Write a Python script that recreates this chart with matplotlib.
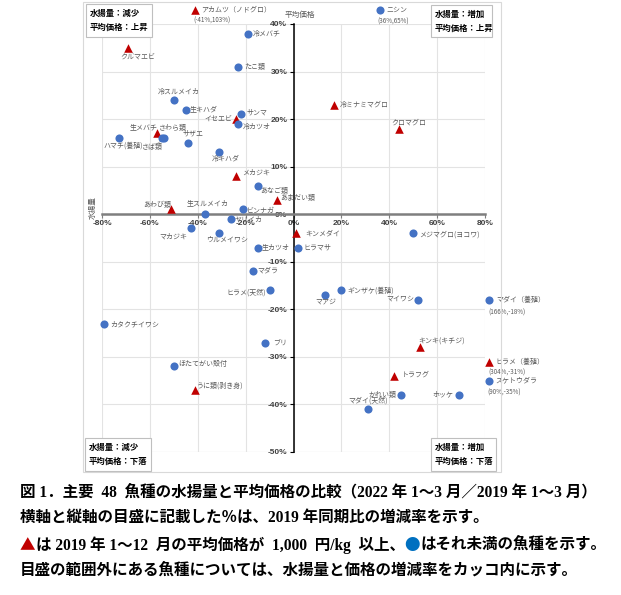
import matplotlib
matplotlib.use("Agg")
import matplotlib.pyplot as plt
from matplotlib.patches import Rectangle

# ---------------- data ----------------
names = ["冷メバチ", "クルマエビ", "たこ類", "冷スルメイカ", "生キハダ", "サンマ", "イセエビ", "冷カツオ",
         "アカムツ（ノドグロ）", "ニシン", "冷ミナミマグロ", "クロマグロ", "ハマチ(養殖)", "生メバチ", "さわら類",
         "さば類", "サザエ", "冷キハダ", "メカジキ", "あなご類", "あまだい類", "ビンナガ", "あわび類",
         "生スルメイカ", "ヤリイカ", "マカジキ", "ウルメイワシ", "キンメダイ", "生カツオ", "ヒラマサ", "マダラ",
         "ヒラメ(天然)", "メジマグロ(ヨコワ)", "マアジ", "ギンザケ(養殖)", "マイワシ", "マダイ（養殖）",
         "カタクチイワシ", "ブリ", "ほたてがい殻付", "うに類(剥き身)", "キンキ(キチジ)", "トラフグ", "かれい類",
         "マダイ(天然)", "ホッケ", "ヒラメ（養殖）", "スケトウダラ"]
volume = [-19, -69, -23, -50, -45, -22, -24, -23,
          -41, 36, 17, 44, -73, -57, -54,
          -55, -44, -31, -24, -15, -7, -21, -51,
          -37, -26, -43, -31, 1, -15, 2, -17,
          -10, 50, 13, 20, 52, 166,
          -79, -12, -50, -41, 53, 42, 45,
          31, 69, 304, 90]
price = [38, 35, 31, 24, 22, 21, 20, 19,
         103, 65, 23, 18, 16, 17, 16,
         16, 15, 13, 8, 6, 3, 1, 1,
         0, -1, -3, -4, -4, -7, -7, -12,
         -16, -4, -17, -16, -18, -18,
         -23, -27, -32, -37, -28, -34, -38,
         -41, -38, -31, -35]
high_price = [0, 1, 0, 0, 0, 0, 1, 0,
              1, 0, 1, 1, 0, 1, 0,
              0, 0, 0, 1, 0, 1, 0, 1,
              0, 0, 0, 0, 1, 0, 0, 0,
              0, 0, 0, 0, 0, 0,
              0, 0, 0, 1, 1, 1, 0,
              0, 0, 1, 0]
xticks = [-80, -60, -40, -20, 0, 20, 40, 60, 80]
yticks = [-50, -40, -30, -20, -10, 0, 10, 20, 30, 40]
quad_texts = ["水揚量：減少\n平均価格：上昇", "水揚量：増加\n平均価格：上昇",
              "水揚量：減少\n平均価格：下落", "水揚量：増加\n平均価格：下落"]
caption = ["図 1．主要  48  魚種の水揚量と平均価格の比較（2022 年 1～3 月／2019 年 1～3 月）",
           "横軸と縦軸の目盛に記載した％は、2019 年同期比の増減率を示す。",
           None,
           "目盛の範囲外にある魚種については、水揚量と価格の増減率をカッコ内に示す。"]
caption3 = [("▲", "#C00000"), ("は 2019 年 1～12  月の平均価格が  1,000  円/kg  以上、", "black"),
            ("●", "#0070C0"), ("はそれ未満の魚種を示す。", "black")]

# label placement (pixel offsets, horizontal alignment)
label_pos = [(5, 0, "left"), (9, -9, "center"), (6, 0, "left"), (5, 8, "center"), (4, 0, "left"),
             (6, 2, "left"), (-4, 0, "right"), (4, -3, "left"),
             (6, 0, "left"), (7, 0, "left"), (6, 0, "left"), (10, 6, "center"), (4, -7, "center"),
             (-13, 6, "center"), (9, 10, "center"),
             (-9, -9, "center"), (5, 9, "center"), (6, -7, "center"), (6, 3, "left"), (3, -5, "left"),
             (4, 2, "left"), (4, -1, "left"), (-14, 5, "center"),
             (3, 11, "center"), (3, -1, "left"), (-17, -8, "center"), (8, -6, "center"), (9, 0, "left"),
             (4, 0, "left"), (5, 0, "left"), (4, 1, "left"),
             (-4, -2, "right"), (6, -1, "left"), (1, -6, "center"), (6, 0, "left"), (-4, 1, "right"),
             (8, 0, "left"),
             (6, -1, "left"), (8, 0, "left"), (4, 2, "left"), (1, 5, "left"), (-2, 6, "left"),
             (8, 1, "left"), (-5, 0, "right"),
             (0, 9, "center"), (-5, 1, "right"), (7, 0, "left"), (7, 0, "left")]
sub_pos = {8: (17, -11), 9: (14, -12), 36: (18, -13), 46: (18, -11), 47: (16, -12)}

W, H = 621, 595
fig = plt.figure(figsize=(W / 100, H / 100), dpi=100)
fig.patch.set_facecolor("white")


def fx(px):
    return px / W


def fy(py):
    return 1 - py / H


JP = ["Noto Sans CJK JP", "DejaVu Sans"]
LAB = "#595959"

# chart frame
fig.patches.append(Rectangle((fx(83), fy(472)), fx(501) - fx(83), fy(2) - fy(472),
                             transform=fig.transFigure, fill=False, ec="#D9D9D9", lw=0.8, zorder=0))

ax = fig.add_axes([fx(102), fy(452), fx(485) - fx(102), fy(24) - fy(452)])
for s in ["top", "right"]:
    ax.spines[s].set_visible(False)
ax.spines["left"].set_position(("data", 0))
ax.spines["bottom"].set_position(("data", 0))
ax.spines["left"].set_color("black")
ax.spines["left"].set_linewidth(1.1)
ax.spines["bottom"].set_color("#7F7F7F")
ax.spines["bottom"].set_linewidth(1.8)
ax.set_xlim(-80, 80)
ax.set_ylim(-50, 40)
ax.set_xticks(xticks)
ax.set_yticks(yticks)
tick_font = dict(family="Liberation Sans", size=6, weight="bold", color="#404040")
ax.set_xticklabels([f"{v}%" for v in xticks], fontdict=tick_font)
ax.set_yticklabels([f"{v}%" for v in yticks], fontdict=tick_font)
ax.tick_params(axis="x", direction="out", length=3, width=0.8, color="#7F7F7F", pad=1.5)
ax.tick_params(axis="y", direction="out", length=3, width=0.8, color="black", pad=1.5)
ax.grid(True, color="#E3E3E3", lw=0.8)
ax.set_axisbelow(True)
ax.axhline(-50, color="#E3E3E3", lw=0.8, zorder=0)

for i, n in enumerate(names):
    x, y = volume[i], price[i]
    dx = x if x <= 80 else 81.5
    dy = y if y <= 40 else 43
    if high_price[i]:
        ax.scatter([dx], [dy], marker="^", s=38, color="#C00000", zorder=4, clip_on=False, linewidths=0)
    else:
        ax.scatter([dx], [dy], marker="o", s=34, color="#4472C4", zorder=4, clip_on=False, linewidths=0)
    ox, oy, ha = label_pos[i]
    ax.annotate(n, (dx, dy), xytext=(ox, oy), textcoords="offset pixels", ha=ha, va="center",
                fontsize=5, color=LAB, family=JP, annotation_clip=False, zorder=5)
    if i in sub_pos:
        sx, sy = sub_pos[i]
        ax.annotate(f"({x}%,{y}%)", (dx, dy), xytext=(sx, sy), textcoords="offset pixels",
                    ha="center", va="center", fontsize=4.5, color=LAB, family=JP,
                    annotation_clip=False, zorder=5)

# leader lines
ax.annotate("", xy=(-69, 35), xytext=(-66, 33.2),
            arrowprops=dict(arrowstyle="-", color="#A6A6A6", lw=0.5), annotation_clip=False)
ax.annotate("", xy=(-54.5, 15.7), xytext=(-58.5, 14.3),
            arrowprops=dict(arrowstyle="-", color="#A6A6A6", lw=0.5), annotation_clip=False)

# axis titles
fig.text(fx(300), fy(15), "平均価格", ha="center", va="center", fontsize=5.5, color=LAB, family=JP)
fig.text(fx(93), fy(208), "水揚量", ha="center", va="center", fontsize=5.5, color=LAB, family=JP,
         rotation=90)

# quadrant boxes
boxes = [(86, 4, 152, 37), (431, 5, 492, 37), (85, 438, 151, 471), (431, 438, 496, 471)]
for (x0, y0, x1, y1), t in zip(boxes, quad_texts):
    fig.patches.append(Rectangle((fx(x0), fy(y1)), fx(x1) - fx(x0), fy(y0) - fy(y1),
                                 transform=fig.transFigure, fc="white", ec="#BFBFBF", lw=0.8, zorder=3))
    l1, l2 = t.split("\n")
    fig.text(fx(x0 + 4), fy(y0 + 9.5), l1, ha="left", va="center", fontsize=6, fontweight="bold",
             family=JP, zorder=4)
    fig.text(fx(x0 + 4), fy(y0 + 23), l2, ha="left", va="center", fontsize=6, fontweight="bold",
             family=JP, zorder=4)

# caption
CAP = ["Liberation Serif", "Noto Sans CJK JP"]
SYM = ["Noto Sans CJK JP", "DejaVu Sans"]
CS = 11.2
ys = [492, 518, 545, 571]
for line, yy in zip(caption, ys):
    if line is not None:
        fig.text(fx(20), fy(yy), line, ha="left", va="center", fontsize=CS, fontweight="bold", family=CAP)

renderer = fig.canvas.get_renderer()
xcur = fx(20)
for seg, col in caption3:
    fam = SYM if seg in ("▲", "●") else CAP
    t = fig.text(xcur, fy(ys[2]), seg, ha="left", va="center", fontsize=CS, fontweight="bold",
                 family=fam, color=col)
    bb = t.get_window_extent(renderer=renderer)
    xcur = bb.x1 / fig.bbox.width

fig.savefig("out.png", dpi=100, facecolor="white")
